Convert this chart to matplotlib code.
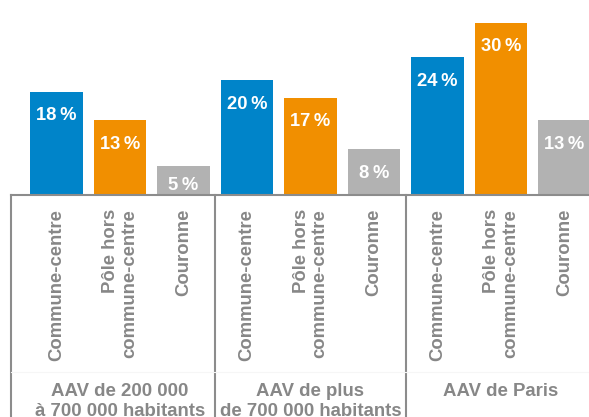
import matplotlib
matplotlib.use("Agg")
import matplotlib.pyplot as plt
from matplotlib.transforms import blended_transform_factory
from matplotlib.lines import Line2D

plt.rcParams['font.family'] = ['Liberation Sans', 'DejaVu Sans']

# ---- data ----
groups = ["AAV de 200 000\nà 700 000 habitants",
          "AAV de plus\nde 700 000 habitants",
          "AAV de Paris"]
categories = ["Commune-centre", "Pôle hors\ncommune-centre", "Couronne"]
values = [
    [18, 13, 5],
    [20, 17, 8],
    [24, 30, 13],
]
colors = ["#0084C9", "#F18F00", "#B2B2B2"]
label_color = "#878787"
line_color = "#8C8C8C"

W, H, DPI = 589, 417, 100
fig = plt.figure(figsize=(W / DPI, H / DPI), dpi=DPI)

base_px = 195  # baseline from top
ax = fig.add_axes([11 / W, (H - base_px) / H, (W - 11) / W, base_px / H])

step_px = 63.5
xmin = -45.5 / step_px
xmax = xmin + (W - 11) / step_px
ymax = 34.0
px_per_unit = base_px / ymax

for gi, vals in enumerate(values):
    for ci, v in enumerate(vals):
        pos = gi * 3 + ci
        ax.bar(pos, v, width=0.82, color=colors[ci], zorder=2)
        off_px = min(24, v * px_per_unit - 9)
        ax.annotate(f"{v}\u2009%", (pos, v), xytext=(0, -off_px * 72 / DPI),
                    textcoords="offset points", ha="center", va="center",
                    color="white", fontsize=13.2, fontweight="bold", zorder=3)

ax.set_xlim(xmin, xmax)
ax.set_ylim(0, ymax)
ax.set_xticks([])
ax.set_yticks([])
for s in ["top", "right", "left"]:
    ax.spines[s].set_visible(False)
ax.spines["bottom"].set_color(line_color)
ax.spines["bottom"].set_linewidth(1.5)
ax.spines["bottom"].set_zorder(4)

tr = blended_transform_factory(ax.transData, fig.transFigure)
y_base = (H - base_px) / H

# separators
for xs in [xmin, 2.5, 5.5]:
    ax.add_line(Line2D([xs, xs], [0, y_base], transform=tr, color=line_color,
                       lw=1.5, clip_on=False))
# faint inner line
ax.add_line(Line2D([xmin, xmax], [(H - 372) / H] * 2, transform=tr,
                   color="#F6F6F6", lw=0.8, clip_on=False))

# category labels
for gi in range(len(groups)):
    for ci, cat in enumerate(categories):
        pos = gi * 3 + ci
        ax.text(pos, (H - 209) / H, cat, transform=tr, rotation=90,
                ha="center", va="top", multialignment="right",
                color=label_color, fontsize=13.3, fontweight="bold",
                linespacing=1.15)

# group labels
for gi, g in enumerate(groups):
    ax.text(gi * 3 + 1, (H - 383) / H, g, transform=tr, ha="center", va="top",
            color=label_color, fontsize=13.4, fontweight="bold", linespacing=1.2)

fig.savefig("out.png", dpi=DPI)
